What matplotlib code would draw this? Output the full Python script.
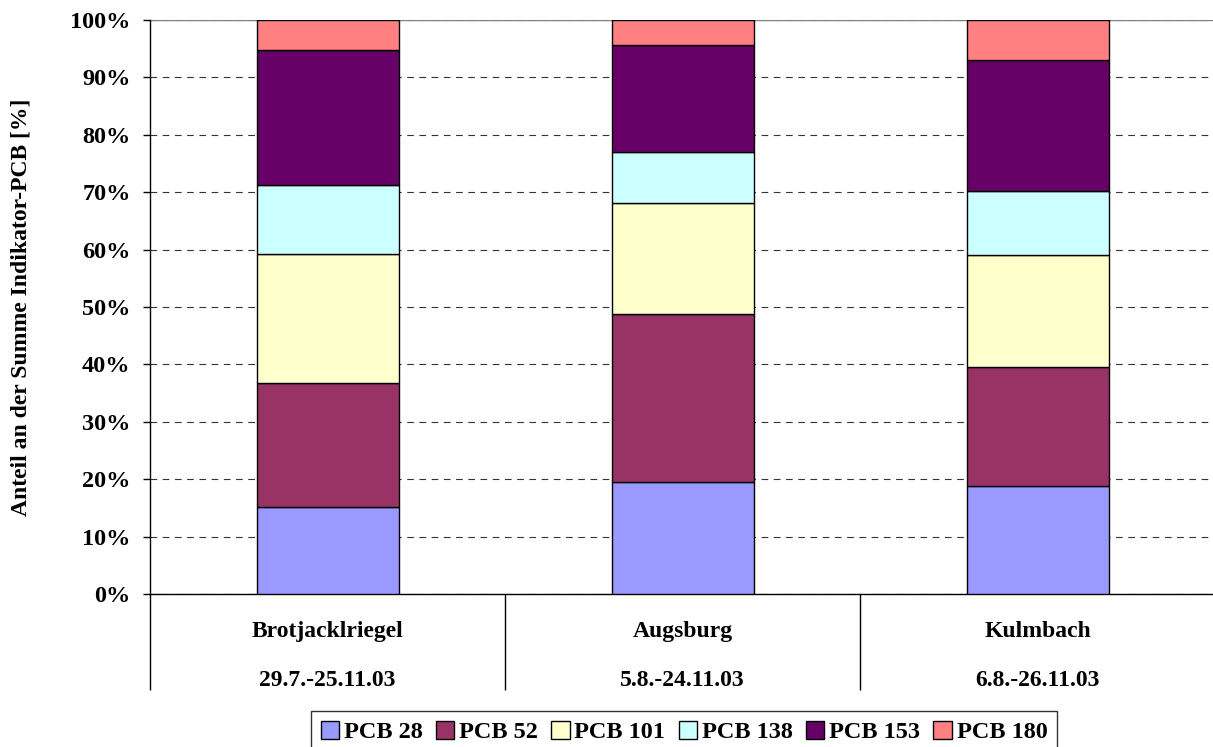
import matplotlib
matplotlib.use("Agg")
import matplotlib.pyplot as plt
import numpy as np
from matplotlib.ticker import PercentFormatter

plt.rcParams["font.family"] = ["Liberation Serif", "DejaVu Serif"]
plt.rcParams["font.weight"] = "bold"

stations = ["Brotjacklriegel", "Augsburg", "Kulmbach"]
periods = ["29.7.-25.11.03", "5.8.-24.11.03", "6.8.-26.11.03"]
congeners = ["PCB 28", "PCB 52", "PCB 101", "PCB 138", "PCB 153", "PCB 180"]
colors = ["#9999FF", "#993366", "#FFFFCC", "#CCFFFF", "#660066", "#FF8080"]

# shares in percent, per congener across the three stations
pcb28 = [15.2, 19.5, 18.8]
pcb52 = [21.6, 29.3, 20.7]
pcb101 = [22.4, 19.3, 19.6]
pcb138 = [12.1, 8.9, 11.1]
pcb153 = [23.5, 18.6, 22.8]
pcb180 = [5.2, 4.4, 7.0]
series = [pcb28, pcb52, pcb101, pcb138, pcb153, pcb180]

fig = plt.figure(figsize=(12.13, 7.47), dpi=100)
ax = fig.add_axes([150 / 1213, 153 / 747, 1065 / 1213, 574 / 747])

x = np.arange(len(stations))
bottom = np.zeros(len(stations))
for name, vals, col in zip(congeners, series, colors):
    ax.bar(x, vals, width=0.4, bottom=bottom, color=col, edgecolor="black",
           linewidth=1, label=name, zorder=3)
    bottom += np.array(vals)

ax.set_xlim(-0.5, 2.5)
ax.set_ylim(0, 100)
ax.set_yticks(np.arange(0, 101, 10))
ax.yaxis.set_major_formatter(PercentFormatter(decimals=0))
ax.tick_params(axis="y", labelsize=17.5, length=5, width=1, direction="out", pad=9)
ax.grid(axis="y", color="#333333", linestyle=(0, (6, 5)), linewidth=0.8, zorder=0)

# category separators below the axis
ax.set_xticks([])
ax.set_xticks([-0.5, 0.5, 1.5, 2.5], minor=True)
ax.tick_params(axis="x", which="minor", length=69, width=1, color="black")
for i in x:
    ax.text(i, -6.6, stations[i], ha="center", va="center", fontsize=17,
            fontweight="bold", clip_on=False)
    ax.text(i, -15.0, periods[i], ha="center", va="center", fontsize=17,
            fontweight="bold", clip_on=False)

for side in ["top", "right"]:
    ax.spines[side].set_visible(False)
ax.axhline(100, color="#808080", linewidth=1, zorder=2)
ax.spines["left"].set_linewidth(1)
ax.spines["bottom"].set_linewidth(1)

ax.set_ylabel("Anteil an der Summe Indikator-PCB [%]", fontsize=17,
              fontweight="bold")
ax.yaxis.set_label_coords(-118 / 1065, 0.5)

leg = fig.legend(loc="upper center", bbox_to_anchor=(684 / 1213, 36 / 747),
                 ncol=6, fontsize=17.5, frameon=True, fancybox=False,
                 edgecolor="black", handlelength=0.75, handleheight=0.75,
                 handletextpad=0.2, columnspacing=0.55, borderpad=0.4,
                 borderaxespad=0)
leg.get_frame().set_linewidth(1)

fig.savefig("out.png", dpi=100)
